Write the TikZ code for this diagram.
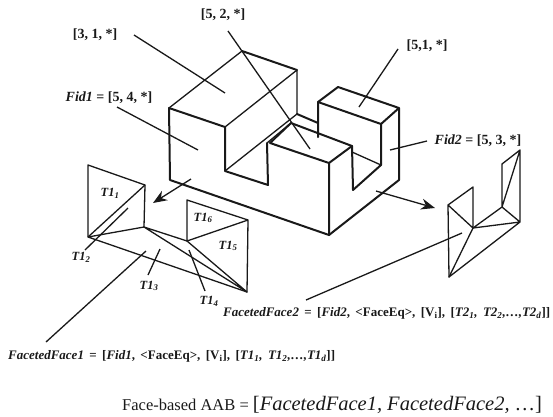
\documentclass[tikz,border=0pt]{standalone}
\usepackage{fontspec}
\setmainfont{Liberation Serif}
\usetikzlibrary{arrows.meta}
\tikzset{
  x=1pt,y=-1pt,
  solid edge/.style={draw=black!90,line width=2pt,line join=round,line cap=round},
  thin edge/.style={draw=black!90,line width=1.3pt,line join=round,line cap=round},
  facet/.style={draw=black!90,line width=1.3pt,line join=round,line cap=round},
  leader/.style={draw=black!90,line width=1.3pt},
  pointer/.style={draw=black!90,line width=1.3pt,-{Stealth[length=14pt,width=11pt]}},
  lab/.style={font=\fontsize{14}{15}\selectfont\bfseries,text=black!90,inner sep=0pt},
  tri/.style={font=\fontsize{12.5}{13}\selectfont\bfseries\itshape,text=black!90,inner sep=0pt},
  form/.style={font=\fontsize{13}{14}\selectfont\bfseries,text=black!90,inner sep=0pt,anchor=west},
  big/.style={font=\fontsize{16.5}{19}\selectfont,text=black!90,inner sep=0pt,anchor=west},
}
\newcommand{\ts}[1]{\textsubscript{#1}}
\newcommand{\widespaces}{\spaceskip=5.4pt\relax}
\begin{document}
\begin{tikzpicture}
\useasboundingbox (0,0) rectangle (553,416);
% solid
\coordinate (A) at (169,108); \coordinate (B) at (225,127);
\coordinate (C) at (242,51);  \coordinate (D) at (297,70);
\coordinate (E) at (170,180); \coordinate (F) at (329,235);
\coordinate (G) at (399,180); \coordinate (H) at (399,108);
\coordinate (I) at (338,87);  \coordinate (J) at (318,102);
\coordinate (K) at (381,124); \coordinate (L) at (381,165);
\coordinate (M) at (353,190); \coordinate (N) at (352,146);
\coordinate (O) at (329,163); \coordinate (P) at (270,143);
\coordinate (Q) at (225,171); \coordinate (R) at (268,185);
\coordinate (S) at (267,143); \coordinate (U) at (297,114);
\coordinate (V) at (291,123); \coordinate (W) at (318,123);
\coordinate (X) at (318,137); \coordinate (Y) at (352,152);
\draw[solid edge] (C) -- (D) (B) -- (A) -- (E) -- (F) -- (G) -- (H) -- (I) -- (J) -- (K) -- (H);
\draw[solid edge] (K) -- (L) -- (M) -- (N) -- (O) -- (F);
\draw[solid edge] (B) -- (Q) -- (R) -- (S);
\draw[solid edge] (O) -- (P) -- (V) -- (N);
\draw[solid edge] (J) -- (X) (U) -- (W);
\draw[thin edge] (A) -- (C) (B) -- (D) -- (U) (Q) -- (U) (S) -- (V) (Y) -- (L);
% left faceted face
\coordinate (a1) at (88,165); \coordinate (a2) at (145,185);
\coordinate (a3) at (144,227); \coordinate (a4) at (88,237);
\coordinate (a5) at (247,292); \coordinate (a6) at (187,241);
\coordinate (a7) at (187,200); \coordinate (a8) at (248,220);
\draw[facet] (a4) -- (a1) -- (a2) -- (a3) -- (a4) -- (a5) -- (a8) -- (a7) -- (a6) -- (a8);
\draw[facet] (a2) -- (a4) (a3) -- (a5) (a3) -- (a6) -- (a5);
% right faceted face
\coordinate (b1) at (448,205); \coordinate (b2) at (473,187);
\coordinate (b3) at (473,228); \coordinate (b4) at (449,277);
\coordinate (b5) at (520,222); \coordinate (b6) at (502,207);
\coordinate (b7) at (502,164); \coordinate (b8) at (520,150);
\draw[facet] (b4) -- (b1) -- (b2) -- (b3) -- (b1);
\draw[facet] (b3) -- (b4) -- (b5) -- (b3) -- (b6) -- (b5) -- (b8) -- (b7) -- (b6) -- (b8);
% labels
\node[lab] (l52) at (223,15) {[5, 2, *]};
\node[lab] (l31) at (95,35) {[3, 1, *]};
\node[lab] (lf1) at (109,98) {\textit{Fid1} = [5, 4, *]};
\node[lab] (l51) at (427,46) {[5,1, *]};
\node[lab] (lf2) at (478,141) {\textit{Fid2} = [5, 3, *]};
\node[tri] (t1) at (110,193) {T1\ts{1}};
\node[tri] (t2) at (81,257) {T1\ts{2}};
\node[tri] (t3) at (149,286) {T1\ts{3}};
\node[tri] (t4) at (209,301) {T1\ts{4}};
\node[tri] (t5) at (228,246) {T1\ts{5}};
\node[tri] (t6) at (203,218) {T1\ts{6}};
\node[form] (ff2) at (223,313) {\widespaces\textit{FacetedFace2} = [\textit{Fid2}, <FaceEq>, [V\ts{i}], [\textit{T2\ts{1}, T2\ts{2},\ldots,T2\ts{d}}]]};
\node[form] (ff1) at (8,356) {\widespaces\textit{FacetedFace1} = [\textit{Fid1}, <FaceEq>, [V\ts{i}], [\textit{T1\ts{1}, T1\ts{2},\ldots,T1\ts{d}}]]};
\node[big] (aab) at (122,405) {Face-based AAB = {\fontsize{20.5}{21}\selectfont[\textit{FacetedFace1, FacetedFace2,} \ldots]}};
% leaders (free ends are named points)
\coordinate (e31a) at (134,35); \coordinate (e31b) at (225,93);
\coordinate (e52a) at (228,31); \coordinate (e52b) at (310,149);
\coordinate (ef1a) at (117,107); \coordinate (ef1b) at (198,150);
\coordinate (e51a) at (398,49); \coordinate (e51b) at (359,107);
\coordinate (ef2a) at (427,141); \coordinate (ef2b) at (390,150);
\coordinate (ar1a) at (191,179); \coordinate (ar1b) at (153,203);
\coordinate (ar2a) at (376,191); \coordinate (ar2b) at (435,208);
\coordinate (t2a) at (128,208); \coordinate (t2b) at (85,250);
\coordinate (t3a) at (160,249); \coordinate (t3b) at (148,275);
\coordinate (t4a) at (189,250); \coordinate (t4b) at (205,291);
\coordinate (fa) at (146,251); \coordinate (fb) at (46,342);
\coordinate (ga) at (462,233); \coordinate (gb) at (306,300);
\draw[leader] (e31a) -- (e31b);
\draw[leader] (e52a) -- (e52b);
\draw[leader] (ef1a) -- (ef1b);
\draw[leader] (e51a) -- (e51b);
\draw[leader] (ef2a) -- (ef2b);
\draw[leader] (t2a) -- (t2b);
\draw[leader] (t3a) -- (t3b);
\draw[leader] (t4a) -- (t4b);
\draw[leader] (fa) -- (fb);
\draw[leader] (ga) -- (gb);
\draw[pointer] (ar1a) -- (ar1b);
\draw[pointer] (ar2a) -- (ar2b);
\end{tikzpicture}
\end{document}
